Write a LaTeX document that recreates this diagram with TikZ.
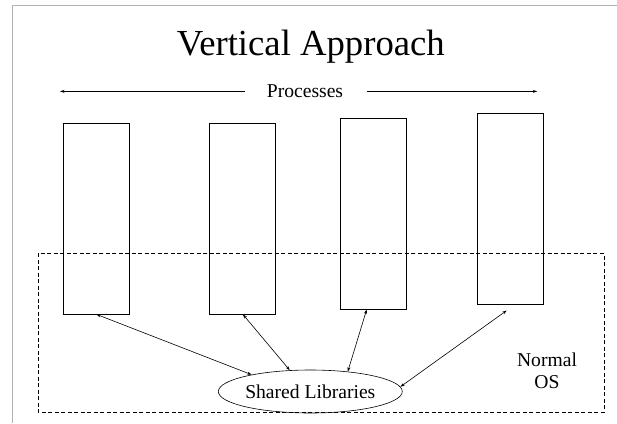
\documentclass[tikz,border=0pt]{standalone}
\usepackage{fontspec}
\setmainfont{Liberation Serif}
\usetikzlibrary{arrows.meta,shapes.geometric}

\begin{document}
\begin{tikzpicture}[x=1pt,y=-1pt,
	procbox/.style={draw,line width=0.8pt,minimum width=66pt,minimum height=190.5pt,inner sep=0pt},
	libnode/.style={draw,ellipse,line width=0.6pt,minimum width=162.6pt,minimum height=43pt,inner sep=0pt,font=\fontsize{19.6}{22}\selectfont},
	lbl/.style={font=\fontsize{19.6}{22.3}\selectfont,inner sep=0pt},
	both/.style={{Stealth[length=4.5pt,width=3pt]}-{Stealth[length=4.5pt,width=3pt]},line width=0.6pt},
	oneway/.style={-{Stealth[length=4.5pt,width=3pt]},line width=0.6pt}]
	\useasboundingbox (0,0) rectangle (617,423);
	\draw[gray!60,line width=1pt] (617,5.3) -- (12,5.3) -- (12,423);
	\node[font=\fontsize{36.7}{40}\selectfont,anchor=base,inner sep=0pt] (title) at (310.8,55) {Vertical Approach};
	\node[lbl,anchor=base] (procs) at (305,97.7) {Processes};
	\coordinate (lend) at (60,90);
	\coordinate (rend) at (537.3,90);
	\draw[oneway] ([xshift=-21.7pt]procs.west) -- (procs.west -| lend);
	\draw[oneway] ([xshift=23.4pt]procs.east) -- (procs.east -| rend);
	\draw[dash pattern=on 4pt off 2.5pt,line width=0.7pt] (38.3,253.3) rectangle (604,412.3);
	\node[procbox] (p1) at (96.3,218.65) {};
	\node[procbox] (p2) at (242.85,218.65) {};
	\node[procbox] (p3) at (373.7,213.8) {};
	\node[procbox] (p4) at (510.3,208.85) {};
	\node[libnode] (lib) at (310.3,391.5) {Shared Libraries};
	\node[lbl,align=center,anchor=base] (os) at (547,388.3) {Normal\\OS};
	\draw[both] (p1.south) -- (lib.164.6);
	\draw[both] (p2.south) -- (lib.134.3);
	\draw[both] ([xshift=-7pt]p3.south) -- (lib.28.4);
	\draw[both] ([shift={(-3.6,6)}]p4.south) -- (lib.3.5);
\end{tikzpicture}
\end{document}
